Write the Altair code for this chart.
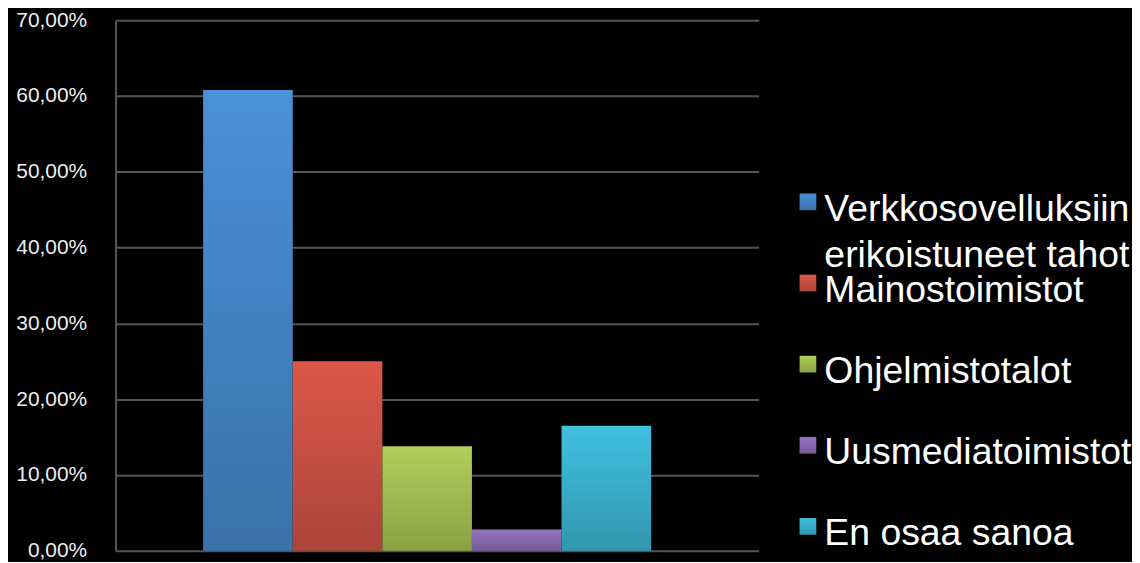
import altair as alt
import pandas as pd

series = ["Verkkosovelluksiin erikoistuneet tahot", "Mainostoimistot", "Ohjelmistotalot",
          "Uusmediatoimistot", "En osaa sanoa"]
legend_text = ["Verkkosovelluksiin\nerikoistuneet tahot", "Mainostoimistot", "Ohjelmistotalot",
               "Uusmediatoimistot", "En osaa sanoa"]
values = [0.608, 0.25, 0.138, 0.028, 0.165]
colors = ["#4A91D8", "#DC574A", "#B0CF5A", "#9474C0", "#40C0E0"]
order = [0, 1, 2, 3, 4]
group = ["all", "all", "all", "all", "all"]
ticks = [0, 0.1, 0.2, 0.3, 0.4, 0.5, 0.6, 0.7]

df = pd.DataFrame({"series": series, "value": values, "label": legend_text, "idx": order, "group": group})

FONT = "Liberation Sans"
shade = {"gradient": "linear", "x1": 0, "y1": 0, "x2": 0, "y2": 1,
         "stops": [{"offset": 0, "color": "rgba(0,0,0,0)"},
                   {"offset": 1, "color": "rgba(0,0,0,0.22)"}]}

x = alt.X("group:N", axis=None,
          scale=alt.Scale(paddingInner=0, paddingOuter=0.2178, align=0.449))
xo = alt.XOffset("series:N", sort=series, scale=alt.Scale(paddingInner=0, paddingOuter=0))
y = alt.Y("value:Q", scale=alt.Scale(domain=[0, 0.7]),
          axis=alt.Axis(values=ticks, title=None, ticks=False,
                        labelExpr="replace(format(datum.value, '.2%'), '.', ',')",
                        labelFont=FONT, labelFontSize=21, labelColor="#EEEEEE",
                        labelPadding=29, grid=True, gridColor="#555555", gridWidth=2,
                        domainColor="#555555", domainWidth=2))
color = alt.Color("series:N", scale=alt.Scale(domain=series, range=colors), legend=None)

bars = alt.Chart(df).mark_bar(cornerRadius=0).encode(x=x, xOffset=xo, y=y, color=color)
bars_shade = alt.Chart(df).mark_bar(color=shade).encode(x=x, xOffset=xo, y=y)
plot = alt.layer(bars, bars_shade).properties(width=646, height=533)

ly = alt.Y("idx:Q", axis=None, scale=alt.Scale(domain=[-2.472, 4.068], reverse=True, nice=False, zero=False))
sym = alt.Chart(df).mark_square(size=280, opacity=1, yOffset=-19).encode(
    x=alt.value(19.5), y=ly, color=alt.Color("series:N", scale=alt.Scale(domain=series, range=colors), legend=None))
sym_shade = alt.Chart(df).mark_square(size=280, opacity=1, yOffset=-19, color=shade).encode(
    x=alt.value(19.5), y=ly)
txt = alt.Chart(df).mark_text(align="left", baseline="alphabetic", font=FONT, fontSize=37.5,
                              color="#FFFFFF", lineBreak="\n", lineHeight=46).encode(
    x=alt.value(36), y=ly, text="label:N")
legend = alt.layer(sym, sym_shade, txt).properties(width=325, height=533)

chart = alt.hconcat(plot, legend, spacing=30).properties(
    background="#000000",
    padding={"left": 7, "top": 0, "right": 0, "bottom": 0},
).configure_view(stroke=None)

chart.save("out.html", embed_options={"renderer": "svg", "actions": False})
